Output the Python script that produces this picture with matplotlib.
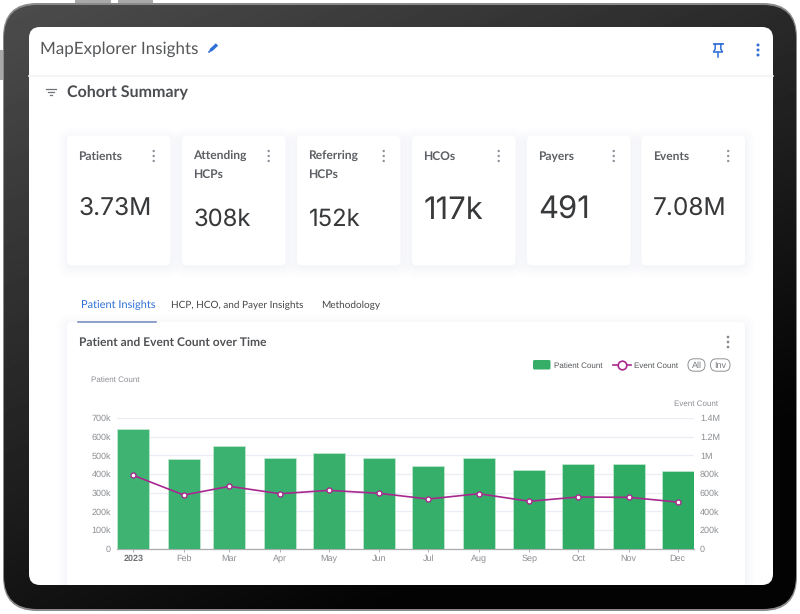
import datetime as dt

import matplotlib
matplotlib.use('Agg')
import matplotlib.dates as mdates
import matplotlib.pyplot as plt
import numpy as np
from matplotlib.colors import LinearSegmentedColormap
from matplotlib.patches import FancyBboxPatch, Circle, Rectangle

plt.rcParams['text.hinting'] = 'no_hinting'
plt.rcParams['text.hinting_factor'] = 1

# Datos
months = [dt.date(2023, m, 1) for m in range(1, 13)]
month_labels = ['2023', 'Feb', 'Mar', 'Apr', 'May', 'Jun', 'Jul', 'Aug', 'Sep', 'Oct', 'Nov', 'Dec']
patient_count = [640000, 480000, 550000, 487000, 513000, 487000, 443000, 484000, 419000, 454000, 453000, 414000]
event_count = [786000, 575000, 668000, 589000, 625000, 593000, 532000, 589000, 508000, 554000, 550000, 500000]
left_ticks = [0, 100000, 200000, 300000, 400000, 500000, 600000, 700000]
left_labels = ['0', '100k', '200k', '300k', '400k', '500k', '600k', '700k']
right_ticks = [0, 200000, 400000, 600000, 800000, 1000000, 1200000, 1400000]
right_labels = ['0', '200k', '400k', '600k', '800k', '1M', '1.2M', '1.4M']

card_titles = ['Patients', 'Attending\nHCPs', 'Referring\nHCPs', 'HCOs', 'Payers', 'Events']
card_values = ['3.73M', '308k', '152k', '117k', '491', '7.08M']
tabs = ['Patient Insights', 'HCP, HCO, and Payer Insights', 'Methodology']

W, H = 800, 614
UI = 'Lato'
CHART = 'Liberation Sans'
BLUE = '#2f6fd6'
GREEN = '#36ae68'
PURPLE = '#a8288f'


def px(size):
    return size * 0.72


def rounded(ax, x0, y0, x1, y1, r, **kw):
    p = FancyBboxPatch((x0 + r, y0 + r), x1 - x0 - 2 * r, y1 - y0 - 2 * r,
                       boxstyle='round,pad=%f,rounding_size=%f' % (r, r), **kw)
    ax.add_patch(p)
    return p


def kebab(ax, x, y, color, gap=5, r=1.3):
    for dy in (-gap, 0, gap):
        ax.add_patch(Circle((x, y + dy), r, color=color, lw=0, zorder=6))


def card(ax, x0, y0, x1, y1, clip=None):
    # sombra suave
    for grow, alpha in ((10, 0.006), (7, 0.008), (4, 0.010), (1.5, 0.014)):
        s = rounded(ax, x0 - grow, y0 - grow + 2, x1 + grow, y1 + grow + 2, 5 + grow,
                    fc='#4a5f9a', ec='none', alpha=alpha, zorder=3)
        if clip is not None:
            s.set_clip_path(clip)
    c = rounded(ax, x0, y0, x1, y1, 5, fc='white', ec='none', zorder=4)
    if clip is not None:
        c.set_clip_path(clip)


fig = plt.figure(figsize=(W / 100, H / 100), dpi=100, facecolor='white')
bg = fig.add_axes([0, 0, 1, 1])
bg.set_xlim(0, W)
bg.set_ylim(H, 0)
bg.axis('off')

# Botones laterales
for x0, y0, x1, y1 in ((75, 0, 111, 6), (118, 0, 153, 6), (0, 50, 6, 80)):
    bg.add_patch(Rectangle((x0, y0), x1 - x0, y1 - y0, fc='#a9a9a9', ec='none', zorder=1))

# Marco de la tablet
outer = rounded(bg, 3, 3, 797, 611, 34, fc='#8a8a8a', ec='none', zorder=2)
inner = rounded(bg, 4, 5, 796, 609, 33, fc='none', ec='none', zorder=2)
yy, xx = np.mgrid[0:1:60j, 0:1:80j]
shade = 0.30 - 0.30 * (0.45 * xx + 0.75 * yy)
shade = np.clip(shade, 0.015, 1)
img = bg.imshow(shade, extent=(0, W, H, 0), cmap='gray', vmin=0, vmax=1, zorder=2.2,
                aspect='auto', interpolation='bilinear')
img.set_clip_path(inner)
bg.set_xlim(0, W)
bg.set_ylim(H, 0)

# Pantalla
screen = rounded(bg, 29, 27, 773, 585, 11, fc='white', ec='none', zorder=2.5)
bg.plot([29, 773], [76, 76], color='#f2f3f5', lw=1.2, zorder=3)

# Cabecera
bg.text(40, 54, 'MapExplorer Insights', family=UI, fontsize=px(17.4), color='#555759',
        va='baseline', ha='left', zorder=6)
bg.plot([210.5, 217], [50.5, 44.5], color=BLUE, lw=2.4, solid_capstyle='butt', zorder=6)
bg.plot([209, 210.5], [52, 50.5], color=BLUE, lw=1.2, zorder=6)
# chincheta
bg.plot([713.5, 722.5], [44.2, 44.2], color=BLUE, lw=1.3, zorder=6)
bg.plot([715.2, 715.2, 713.5, 722.5, 720.8, 720.8], [44.2, 49, 52, 52, 49, 44.2], color=BLUE, lw=1.1, zorder=6)
bg.plot([718, 718], [52, 57], color=BLUE, lw=1.1, zorder=6)
kebab(bg, 758, 50, BLUE, gap=5, r=1.5)

# Filtro y título
for y, half in ((89, 5.2), (92, 3.2), (95, 1.4)):
    bg.plot([51 - half, 51 + half], [y, y], color='#70747a', lw=0.9, zorder=6)
bg.text(67, 97, 'Cohort Summary', family=UI, weight='bold', fontsize=px(16.2), color='#4b4d50',
        va='baseline', ha='left', zorder=6)

# Tarjetas
card_lefts = [67, 182, 297, 412, 527, 641.5]
value_sizes = [24.5, 23.8, 23.8, 31, 31, 24.5]
value_y = [215, 226, 226, 219, 219, 215]
for x0, title, value, size, vy in zip(card_lefts, card_titles, card_values, value_sizes, value_y):
    card(bg, x0, 135.7, x0 + 103.5, 265.3)
    bg.text(x0 + 11.5, 160, title.split('\n')[0], family=UI, weight='bold', fontsize=px(12.3), color='#5c5f63',
            va='baseline', ha='left', zorder=6)
    if '\n' in title:
        bg.text(x0 + 11.5, 177.5, title.split('\n')[1], family=UI, weight='bold', fontsize=px(12.3), color='#5c5f63',
                va='baseline', ha='left', zorder=6)
    bg.text(x0 + 11.5, vy, value, family='Inter', weight='normal', fontsize=px(size), color='#38393b',
            va='baseline', ha='left', zorder=6)
    kebab(bg, x0 + 86.7, 156, '#8d939c', gap=5, r=1.2)

# Pestañas
for x, label, color, size in zip((81, 171, 321), tabs, (BLUE, '#444648', '#444648'), (10.6, 10, 10.1)):
    bg.text(x, 308, label, family=UI, fontsize=px(size), color=color, va='baseline', ha='left', zorder=6)
bg.plot([78, 156], [321.5, 321.5], color='#6f86bd', lw=1.1, zorder=6)

# Tarjeta del gráfico
card(bg, 67, 322, 745, 600, clip=screen)
bg.text(79, 347, 'Patient and Event Count over Time', family=UI, weight='bold', fontsize=px(12.3),
        color='#505255', va='baseline', ha='left', zorder=6)
kebab(bg, 728, 342, '#80858c', gap=5, r=1.3)

# Leyenda
rounded(bg, 533, 360, 550.5, 369.5, 1.5, fc=GREEN, ec='none', zorder=6)
bg.text(554, 368.3, 'Patient Count', family=CHART, fontsize=px(8.5), color='#54575b', va='baseline', zorder=6)
bg.plot([613, 631], [365, 365], color=PURPLE, lw=1.2, zorder=6)
bg.plot([622], [365], 'o', ms=6.2, mfc='white', mec=PURPLE, mew=1.2, zorder=7)
bg.text(634.5, 368.3, 'Event Count', family=CHART, fontsize=px(8.5), color='#54575b', va='baseline', zorder=6)
for x0, x1, label in ((688, 705, 'All'), (710.5, 730, 'Inv')):
    rounded(bg, x0, 358.8, x1, 371.2, 6, fc='white', ec='#8f9296', lw=0.7, zorder=6)
    bg.text((x0 + x1) / 2, 368.3, label, family=CHART, fontsize=px(9), color='#777a7f',
            va='baseline', ha='center', zorder=7)

bg.text(91, 381.7, 'Patient Count', family=CHART, fontsize=px(8.5), color='#8b8e93', va='baseline', zorder=6)
bg.text(718, 406.3, 'Event Count', family=CHART, fontsize=px(8.5), color='#8b8e93', va='baseline', ha='right', zorder=6)

# Gráfico
left, right, top, bottom = 117.3, 693.6, 418, 548.7
ax = fig.add_axes([left / W, 1 - bottom / H, (right - left) / W, (bottom - top) / H])
ax.patch.set_alpha(0)
half_bar = 9.8
bar_colors = LinearSegmentedColormap.from_list('g', ['#3eb372', '#2dab62'])(np.linspace(0, 1, 12))
ax.bar(months, patient_count, width=half_bar * 2, color=bar_colors, edgecolor='#c5e9d4', linewidth=0.5, zorder=3)
ax.set_xlim(mdates.date2num(months[0]) - half_bar, mdates.date2num(months[-1]) + half_bar)
ax.set_ylim(0, 700000)
ax.set_yticks(left_ticks)
ax.set_yticklabels(left_labels, family=CHART, fontsize=px(9), color='#8b8e93')
ax.tick_params(axis='y', length=0, pad=4.5)
ax.grid(axis='y', color='#e9eef6', lw=0.9, zorder=0)
ax.set_axisbelow(True)
ax.set_xticks(months)
ax.set_xticklabels(month_labels, family=CHART, fontsize=px(9), color='#8b8e93')
ax.get_xticklabels()[0].set_fontweight('bold')
ax.get_xticklabels()[0].set_color('#6e7175')
ax.tick_params(axis='x', length=2.5, width=0.7, color='#a9abaf', pad=1.5)
for side in ('top', 'left', 'right'):
    ax.spines[side].set_visible(False)
ax.spines['bottom'].set_color('#a9abaf')
ax.spines['bottom'].set_linewidth(0.9)

ax2 = ax.twinx()
ax2.patch.set_alpha(0)
ax2.plot(months, event_count, color=PURPLE, lw=1.2, marker='o', ms=3.6, mfc='white', mec=PURPLE, mew=1.0,
         zorder=5, clip_on=False)
ax2.set_ylim(0, 1400000)
ax2.set_yticks(right_ticks)
ax2.set_yticklabels(right_labels, family=CHART, fontsize=px(9), color='#8b8e93')
ax2.tick_params(axis='y', length=0, pad=4.5)
for side in ax2.spines:
    ax2.spines[side].set_visible(False)

fig.savefig('out.png', dpi=100, facecolor='white')
